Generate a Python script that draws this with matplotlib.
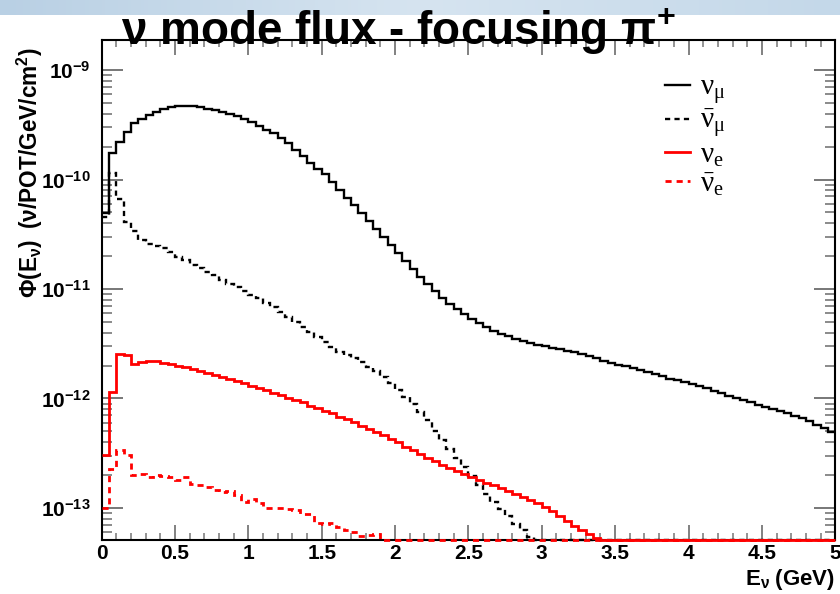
import numpy as np
import matplotlib
matplotlib.use("Agg")
import matplotlib.pyplot as plt
from matplotlib.lines import Line2D
from matplotlib.ticker import LogLocator, MultipleLocator, NullFormatter, FixedLocator

plt.rcParams['font.family'] = ['Liberation Sans', 'DejaVu Sans']
plt.rcParams['mathtext.fontset'] = 'custom'
plt.rcParams['mathtext.rm'] = 'Liberation Serif'
plt.rcParams['mathtext.it'] = 'Liberation Serif:italic'
plt.rcParams['mathtext.bf'] = 'Liberation Sans:bold'

# flux per 0.05 GeV bin, 0 - 5 GeV (nu/POT/GeV/cm^2); 0 = empty bin
numu = [4.9e-11, 1.74e-10, 2.2e-10, 2.7e-10, 3.3e-10, 3.6e-10, 3.9e-10, 4.15e-10, 4.4e-10, 4.55e-10,
        4.65e-10, 4.7e-10, 4.65e-10, 4.57e-10, 4.45e-10, 4.3e-10, 4.14e-10, 3.97e-10, 3.77e-10, 3.55e-10,
        3.32e-10, 3.08e-10, 2.86e-10, 2.64e-10, 2.39e-10, 2.14e-10, 1.86e-10, 1.64e-10, 1.42e-10, 1.25e-10,
        1.12e-10, 9.5e-11, 8.0e-11, 6.8e-11, 5.85e-11, 4.95e-11, 4.2e-11, 3.5e-11, 2.98e-11, 2.52e-11,
        2.13e-11, 1.8e-11, 1.52e-11, 1.29e-11, 1.11e-11, 9.6e-12, 8.3e-12, 7.3e-12, 6.55e-12, 5.9e-12,
        5.3e-12, 4.88e-12, 4.49e-12, 4.17e-12, 3.91e-12, 3.7e-12, 3.52e-12, 3.37e-12, 3.24e-12, 3.1e-12,
        3.0e-12, 2.91e-12, 2.82e-12, 2.74e-12, 2.65e-12, 2.54e-12, 2.44e-12, 2.33e-12, 2.22e-12, 2.12e-12,
        2.04e-12, 1.97e-12, 1.91e-12, 1.83e-12, 1.76e-12, 1.69e-12, 1.6e-12, 1.52e-12, 1.47e-12, 1.41e-12,
        1.35e-12, 1.29e-12, 1.24e-12, 1.18e-12, 1.12e-12, 1.06e-12, 1.0e-12, 9.6e-13, 9.2e-13, 8.8e-13,
        8.4e-13, 8.0e-13, 7.65e-13, 7.3e-13, 6.97e-13, 6.6e-13, 6.2e-13, 5.77e-13, 5.36e-13, 4.96e-13]

numubar = [4.5e-11, 1.14e-10, 6.7e-11, 4.1e-11, 3.4e-11, 2.8e-11, 2.57e-11, 2.47e-11, 2.35e-11, 2.19e-11,
           1.97e-11, 1.84e-11, 1.65e-11, 1.54e-11, 1.44e-11, 1.34e-11, 1.2e-11, 1.12e-11, 1.05e-11, 9.6e-12,
           8.8e-12, 8.2e-12, 7.4e-12, 6.9e-12, 6.2e-12, 5.6e-12, 5.0e-12, 4.5e-12, 4.07e-12, 3.66e-12,
           3.3e-12, 2.96e-12, 2.67e-12, 2.49e-12, 2.33e-12, 2.15e-12, 1.93e-12, 1.78e-12, 1.57e-12, 1.38e-12,
           1.19e-12, 1.03e-12, 8.9e-13, 7.5e-13, 6.3e-13, 5.1e-13, 4.16e-13, 3.44e-13, 2.85e-13, 2.36e-13,
           1.95e-13, 1.61e-13, 1.33e-13, 1.13e-13, 9.7e-14, 8.4e-14, 7.2e-14, 6.25e-14, 5.4e-14] + [0.0] * 41

nue = [3.03e-13, 1.15e-12, 2.54e-12, 2.49e-12, 2.06e-12, 2.15e-12, 2.19e-12, 2.18e-12, 2.12e-12, 2.06e-12,
       2.0e-12, 1.93e-12, 1.85e-12, 1.78e-12, 1.71e-12, 1.64e-12, 1.57e-12, 1.51e-12, 1.45e-12, 1.39e-12,
       1.31e-12, 1.26e-12, 1.19e-12, 1.13e-12, 1.07e-12, 1.02e-12, 9.65e-13, 9.2e-13, 8.6e-13, 8.15e-13,
       7.7e-13, 7.3e-13, 6.8e-13, 6.43e-13, 6.04e-13, 5.66e-13, 5.32e-13, 4.95e-13, 4.62e-13, 4.25e-13,
       3.98e-13, 3.63e-13, 3.37e-13, 3.1e-13, 2.88e-13, 2.67e-13, 2.48e-13, 2.33e-13, 2.19e-13, 2.05e-13,
       1.93e-13, 1.81e-13, 1.7e-13, 1.61e-13, 1.51e-13, 1.42e-13, 1.33e-13, 1.25e-13, 1.18e-13, 1.1e-13,
       1.03e-13, 9.3e-14, 8.4e-14, 7.56e-14, 6.8e-14, 6.25e-14, 5.75e-14, 5.3e-14] + [0.0] * 32

nuebar = [1.0e-13, 2.29e-13, 3.42e-13, 3.03e-13, 1.99e-13, 2.06e-13, 1.92e-13, 1.99e-13, 1.95e-13, 1.9e-13,
          1.82e-13, 1.92e-13, 1.67e-13, 1.61e-13, 1.56e-13, 1.47e-13, 1.4e-13, 1.42e-13, 1.31e-13, 1.13e-13,
          1.22e-13, 1.1e-13, 1.0e-13, 1.0e-13, 9.9e-14, 9.8e-14, 9.5e-14, 8.9e-14, 8.9e-14, 7.3e-14,
          7.2e-14, 7.3e-14, 6.7e-14, 6.25e-14, 6.0e-14, 5.6e-14, 5.7e-14, 5.8e-14, 5.1e-14] + [0.0] * 61

e_min, e_max, n_bins = 0.0, 5.0, 100
y_min, y_max = 5.1e-14, 1.88e-9

edges = np.linspace(e_min, e_max, n_bins + 1)

fig = plt.figure(figsize=(8.4, 5.94), dpi=100)

# light blue slide band at the top
band = fig.add_axes([0, 1 - 15 / 594, 1, 15 / 594])
grad = np.linspace(0, 1, 256).reshape(1, -1)
band.imshow(grad, aspect='auto', cmap=matplotlib.colors.LinearSegmentedColormap.from_list(
    'band', ['#b9d0e4', '#d6e4f0', '#c4d8e9']))
band.axis('off')

ax = fig.add_axes([101.7 / 840, 54 / 594, 733.5 / 840, 500 / 594])

series = [
    (numu, 'black', '-', 1.7, r'$\mathrm{\nu}_{\mathrm{\mu}}$'),
    (numubar, 'black', (0, (2.2, 1.8)), 1.7, r'$\bar{\mathrm{\nu}}_{\mathrm{\mu}}$'),
    (nue, 'red', '-', 2.0, r'$\mathrm{\nu}_{\mathrm{e}}$'),
    (nuebar, 'red', (0, (2.2, 1.8)), 2.0, r'$\bar{\mathrm{\nu}}_{\mathrm{e}}$'),
]
handles = []
for vals, col, ls, lw, lab in series:
    # empty bins sit on the bottom of the frame, as in ROOT
    v = np.clip(np.array(vals), y_min, None)
    ax.stairs(v, edges, baseline=None, color=col, linestyle=ls, linewidth=lw,
              clip_on=False, zorder=3)
    handles.append(Line2D([], [], color=col, linestyle=ls, linewidth=lw, label=lab))

ax.set_yscale('log')
ax.set_xlim(e_min, e_max)
ax.set_ylim(y_min, y_max)

ax.xaxis.set_major_locator(MultipleLocator(0.5))
ax.xaxis.set_minor_locator(MultipleLocator(0.1))
ax.set_xticks([0, 0.5, 1, 1.5, 2, 2.5, 3, 3.5, 4, 4.5, 5])
ax.set_xticklabels(['0', '0.5', '1', '1.5', '2', '2.5', '3', '3.5', '4', '4.5', '5'],
                   fontweight='bold', fontsize=15)
ax.yaxis.set_major_locator(FixedLocator([1e-13, 1e-12, 1e-11, 1e-10, 1e-9]))
ax.yaxis.set_minor_locator(LogLocator(base=10, subs=np.arange(2, 10), numticks=20))
ax.yaxis.set_minor_formatter(NullFormatter())
ax.set_yticklabels([r'$\mathbf{10^{-13}}$', r'$\mathbf{10^{-12}}$', r'$\mathbf{10^{-11}}$',
                    r'$\mathbf{10^{-10}}$', r'$\mathbf{10^{-9}}$'], fontsize=15)

ax.tick_params(axis='both', which='both', direction='in', top=True, right=True, color='#777777')
ax.tick_params(axis='x', which='major', length=11, width=1.3, pad=3)
ax.tick_params(axis='x', which='minor', length=5, width=1.1)
ax.tick_params(axis='y', which='major', length=15, width=1.4, pad=8)
ax.tick_params(axis='y', which='minor', length=7.5, width=1.2)
for s in ax.spines.values():
    s.set_linewidth(1.5)

fig.text(30 / 840, 1 - 47 / 594, r'$\mathbf{\Phi(E_{\nu})\ \ (\nu/POT/GeV/cm^{2})}$',
         rotation=90, ha='center', va='top', fontsize=16.3)
fig.text(835 / 840, 1 - 579 / 594, r'$\mathbf{E_{\nu}\ (GeV)}$', ha='right', va='center', fontsize=16)

fig.text(398 / 840, 1 - 31 / 594, r'ν mode flux - focusing π$\mathbf{^{+}}$', ha='center', va='center',
         fontsize=33, fontweight='bold')

ax.legend(handles=handles, loc='upper left', bbox_to_anchor=(665 / 840, 1 - 73 / 594),
          bbox_transform=fig.transFigure, frameon=False, fontsize=21, handlelength=0.85,
          handletextpad=0.35, labelspacing=0.02, borderpad=0, borderaxespad=0)

fig.savefig('out.png', dpi=100)
